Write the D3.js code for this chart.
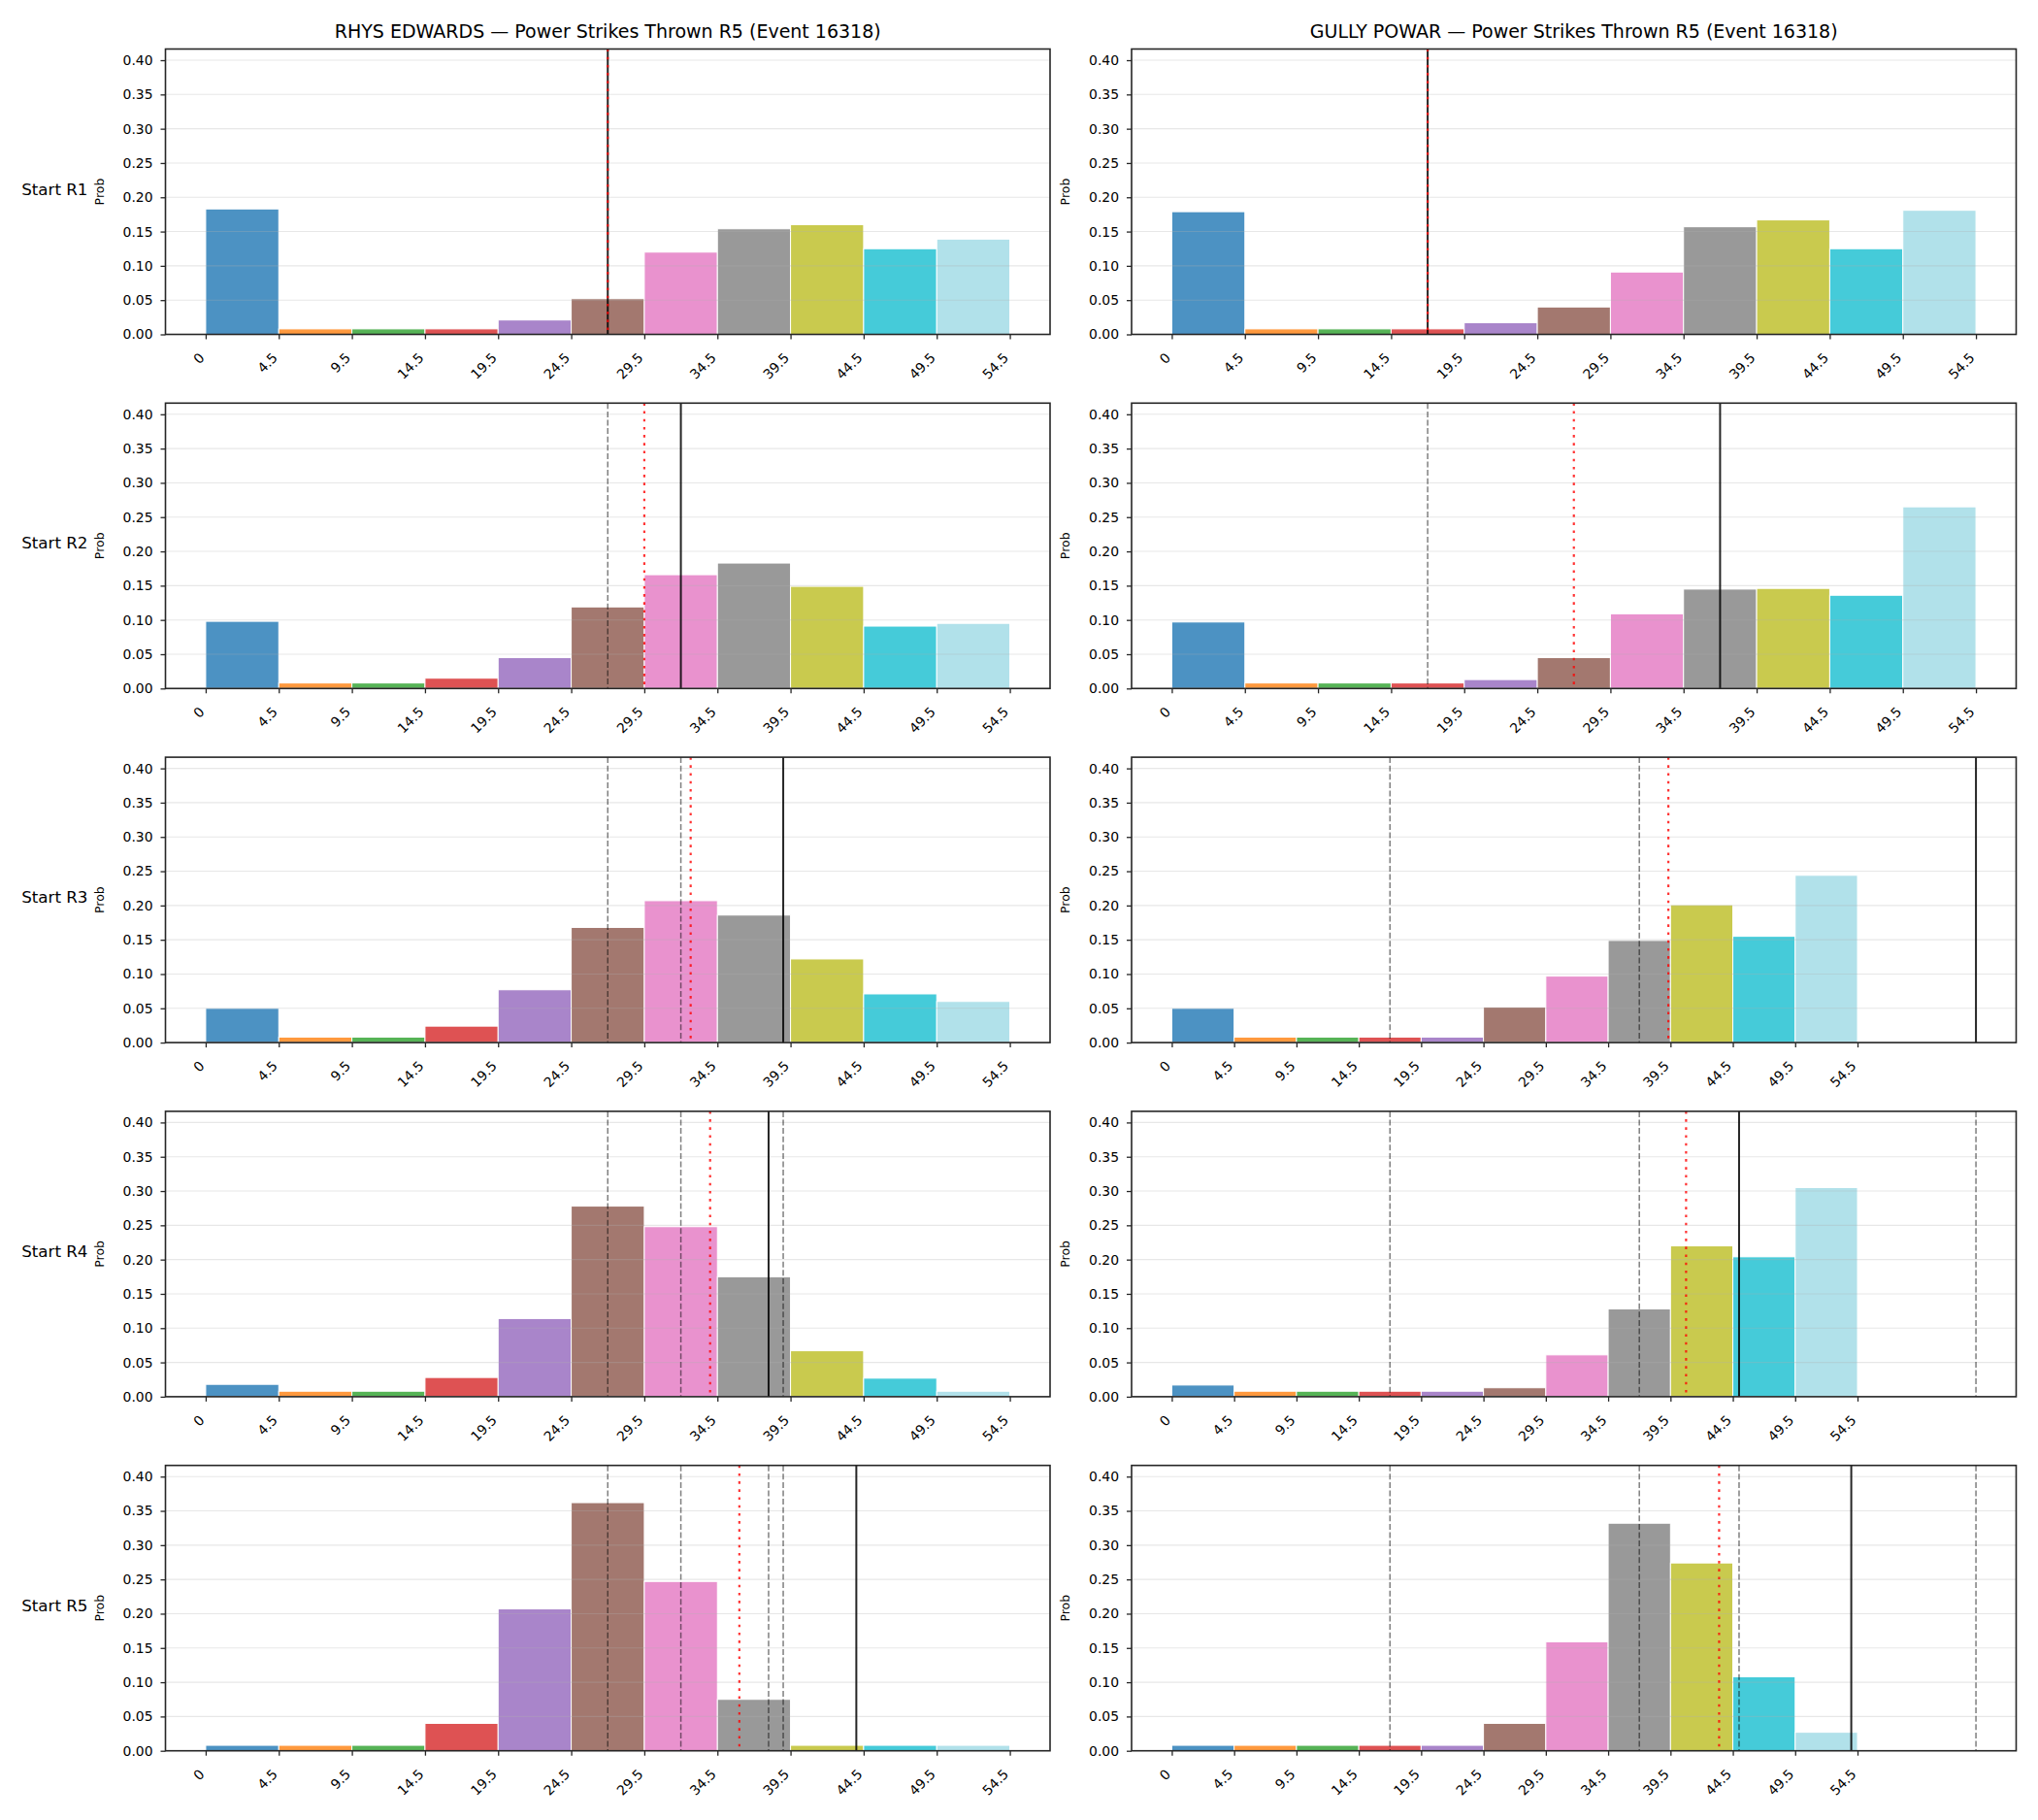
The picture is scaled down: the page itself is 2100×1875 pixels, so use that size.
<!DOCTYPE html>
<html>
<head>
<meta charset="utf-8" />
<title>Power Strikes Thrown R5</title>
<script src="https://d3js.org/d3.v7.min.js"></script>
<style>
  body { margin: 0; background: #fff; }
  text { font-family: "DejaVu Sans", sans-serif; fill: #000; }
</style>
</head>
<body>
<svg></svg>
<script>
// tick positions (bin edges) and their labels
const edges = [-0.5, 4.5, 9.5, 14.5, 19.5, 24.5, 29.5, 34.5, 39.5, 44.5, 49.5, 54.5]
const tickLabels = ["0", "4.5", "9.5", "14.5", "19.5", "24.5", "29.5", "34.5", "39.5", "44.5", "49.5", "54.5"]
const rounds = ["R1", "R2", "R3", "R4", "R5"]
const fighters = ["RHYS EDWARDS", "GULLY POWAR"]
const yTicks = [0, 0.05, 0.10, 0.15, 0.20, 0.25, 0.30, 0.35, 0.40]

// probability per bin, one row per starting round
const probsRhys = [
  [0.183, 0.008, 0.008, 0.008, 0.021, 0.052, 0.120, 0.154, 0.160, 0.125, 0.139],
  [0.098, 0.008, 0.008, 0.015, 0.045, 0.119, 0.166, 0.183, 0.149, 0.091, 0.095],
  [0.050, 0.008, 0.008, 0.024, 0.077, 0.168, 0.207, 0.186, 0.122, 0.071, 0.060],
  [0.018, 0.008, 0.008, 0.028, 0.114, 0.278, 0.248, 0.175, 0.067, 0.027, 0.008],
  [0.008, 0.008, 0.008, 0.040, 0.207, 0.362, 0.247, 0.075, 0.008, 0.008, 0.008]
]
const probsGully = [
  [0.179, 0.008, 0.008, 0.008, 0.017, 0.040, 0.091, 0.157, 0.167, 0.125, 0.181],
  [0.097, 0.008, 0.008, 0.008, 0.013, 0.045, 0.109, 0.145, 0.146, 0.136, 0.265],
  [0.050, 0.008, 0.008, 0.008, 0.008, 0.052, 0.097, 0.149, 0.201, 0.155, 0.244],
  [0.017, 0.008, 0.008, 0.008, 0.008, 0.013, 0.061, 0.128, 0.220, 0.204, 0.305],
  [0.008, 0.008, 0.008, 0.008, 0.008, 0.040, 0.159, 0.332, 0.274, 0.108, 0.027]
]
// actual per round (solid, earlier ones dashed) and running average (red dotted)
const actualRhys = [27, 32, 39, 38, 44]
const avgRhys = [27, 29.5, 32.67, 34, 36]
const actualGully = [17, 37, 64, 45, 54]
const avgGully = [17, 27, 39.33, 40.75, 43.4]

const colors = ["#1f77b4", "#ff7f0e", "#2ca02c", "#d62728", "#9467bd", "#8c564b",
                "#e377c2", "#7f7f7f", "#bcbd22", "#17becf", "#9edae5"]

const W = 2100, H = 1875
const svg = d3.select("svg").attr("width", W).attr("height", H)

const colLeft = [170.5, 1166]
const axW = 911.5, axH = 294
const rowTop = 50.5, rowStep = 364.8

const allProbs = probsRhys.concat(probsGully).flat()
const yScale = d3.scaleLinear().domain([0, d3.max(allProbs) * 1.15]).range([axH, 0])

const cols = [
  {name: fighters[0], probs: probsRhys, actual: actualRhys, avg: avgRhys},
  {name: fighters[1], probs: probsGully, actual: actualGully, avg: avgGully}
]

cols.forEach((c, ci) => {
  svg.append("text")
    .attr("x", colLeft[ci] + axW / 2)
    .attr("y", 38.5)
    .attr("text-anchor", "middle")
    .style("font-size", "19px")
    .text(c.name + " \u2014 Power Strikes Thrown R5 (Event 16318)")

  rounds.forEach((r, ri) => {
    const g = svg.append("g")
      .attr("transform", `translate(${colLeft[ci]},${rowTop + ri * rowStep})`)

    const lines = c.actual.slice(0, ri + 1).concat([c.avg[ri]])
    const lo = edges[0], hi = Math.max(edges[edges.length - 1], d3.max(lines))
    const pad = (hi - lo) * 0.05
    const x = d3.scaleLinear().domain([lo - pad, hi + pad]).range([0, axW])

    // bars
    g.selectAll(".bar")
      .data(c.probs[ri])
      .enter()
      .append("rect")
      .attr("x", (d, i) => x(edges[i]))
      .attr("y", d => yScale(d))
      .attr("width", (d, i) => x(edges[i + 1]) - x(edges[i]))
      .attr("height", d => axH - yScale(d))
      .attr("fill", (d, i) => colors[i])
      .attr("fill-opacity", 0.8)
      .attr("stroke", "#fff")
      .attr("stroke-width", 1)

    // grid (sits above bars like matplotlib default)
    g.append("g")
      .selectAll("line")
      .data(yTicks)
      .enter()
      .append("line")
      .attr("x1", 0).attr("x2", axW)
      .attr("y1", d => yScale(d)).attr("y2", d => yScale(d))
      .attr("stroke", "#b0b0b0")
      .attr("stroke-opacity", 0.3)
      .attr("stroke-width", 1.1)

    // earlier rounds dashed
    g.selectAll(".prev")
      .data(c.actual.slice(0, ri))
      .enter()
      .append("line")
      .attr("x1", d => x(d)).attr("x2", d => x(d))
      .attr("y1", 0).attr("y2", axH)
      .attr("stroke", "#000")
      .attr("stroke-opacity", 0.5)
      .attr("stroke-width", 1.5)
      .attr("stroke-dasharray", "6,2.6")

    g.append("line")
      .attr("x1", x(c.actual[ri])).attr("x2", x(c.actual[ri]))
      .attr("y1", 0).attr("y2", axH)
      .attr("stroke", "#000")
      .attr("stroke-opacity", 0.85)
      .attr("stroke-width", 2)

    g.append("line")
      .attr("x1", x(c.avg[ri])).attr("x2", x(c.avg[ri]))
      .attr("y1", 0).attr("y2", axH)
      .attr("stroke", "red")
      .attr("stroke-opacity", 0.8)
      .attr("stroke-width", 2.2)
      .attr("stroke-dasharray", "2.6,5.6")

    // y axis
    const ya = g.append("g")
      .call(d3.axisLeft(yScale).tickValues(yTicks).tickFormat(d3.format(".2f")).tickSize(5).tickPadding(8))
    ya.select(".domain").remove()
    ya.selectAll("text").style("font-size", "13.9px").style("font-family", "DejaVu Sans")
    ya.selectAll("line").attr("stroke", "#262626").attr("stroke-width", 1.3)

    // x axis, labels rotated 45
    const xa = g.append("g")
      .attr("transform", `translate(0,${axH})`)
      .call(d3.axisBottom(x).tickValues(edges).tickFormat((d, i) => tickLabels[i]).tickSize(5))
    xa.select(".domain").remove()
    xa.selectAll("line").attr("stroke", "#262626").attr("stroke-width", 1.3)
    xa.selectAll("text")
      .attr("y", 0).attr("dy", 0)
      .attr("text-anchor", "end")
      .attr("transform", "translate(-1,25) rotate(-45)")
      .style("font-size", "13.9px")
      .style("font-family", "DejaVu Sans")

    // frame
    g.append("rect")
      .attr("width", axW).attr("height", axH)
      .attr("fill", "none")
      .attr("stroke", "#262626")
      .attr("stroke-width", 1.6)

    g.append("text")
      .attr("transform", `translate(${-64},${axH / 2}) rotate(-90)`)
      .attr("text-anchor", "middle")
      .style("font-size", "12.5px")
      .text("Prob")

    if (ci == 0) {
      g.append("text")
        .attr("x", -80)
        .attr("y", axH / 2 + 3)
        .attr("text-anchor", "end")
        .style("font-size", "16.7px")
        .text("Start " + r)
    }
  })
})
</script>
</body>
</html>
